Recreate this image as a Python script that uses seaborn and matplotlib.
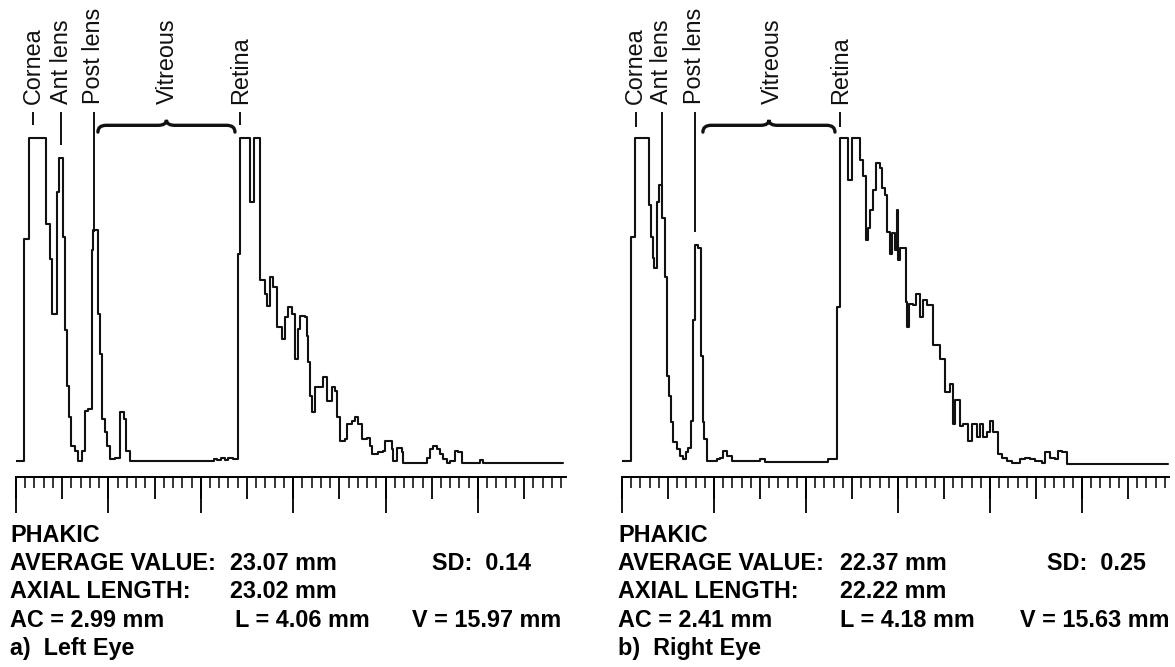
import numpy as np
import pandas as pd
import matplotlib
matplotlib.use("Agg")
import matplotlib.pyplot as plt
from matplotlib.path import Path
from matplotlib.patches import PathPatch
from matplotlib.ticker import MultipleLocator
import seaborn as sns

# ---------------- data (depth in mm, echo amplitude in % of screen) ----------------
left_depth_mm = [0, 0.87, 1.44, 3.2, 3.7, 3.86, 4.4, 4.7, 5.05, 5.3, 5.48, 5.73, 6.0, 6.39, 6.75,
                 7.1, 7.47, 7.83, 8.19, 8.37, 8.9, 9.1, 9.34, 9.63, 9.88, 10.17, 10.7, 11.25, 11.7,
                 11.9, 12.34, 21.4, 21.8, 22.2, 22.6, 23.0, 23.5, 24.06, 24.3, 25.33, 25.8, 26.41,
                 26.95, 27.13, 27.49, 27.85, 28.21, 28.75, 29.11, 29.48, 29.84, 30.2, 30.56, 30.74,
                 31.28, 31.46, 31.64, 31.82, 32.0, 32.36, 33.26, 33.62, 34.16, 34.52, 34.7, 35.07,
                 35.61, 35.79, 36.33, 36.69, 37.05, 37.41, 37.95, 38.31, 38.49, 39.2, 39.76, 39.94,
                 40.66, 40.84, 41.2, 41.74, 41.92, 44.45, 44.81, 45.17, 45.53, 45.89, 46.25, 46.61,
                 46.97, 47.51, 47.87, 48.23, 50.22, 50.5, 59.2]
left_amp_pct = [0, 68.8, 100, 73.5, 62.6, 45.5, 83.3, 93.7, 69.4, 40.4, 23.3, 13.5, 4.7, 3.1, 0,
                3.1, 15.5, 16, 65.2, 71.4, 45.5, 33.1, 12.9, 8.8, 4.7, 0.5, 0.8, 15, 12.9,
                3.1, 0, 0.5, 0.2, 0.8, 0.3, 0.8, 0.5, 64.2, 100, 80.2, 100, 55.9,
                51.8, 48.1, 56.9, 53.8, 41.4, 37.8, 44.5, 47.6, 45.5, 31.6, 40.9, 45,
                44.5, 38.8, 30.5, 20.2, 15, 22.8, 25.9, 18.6, 22.8, 21.7, 13.5, 6.2,
                6.7, 11.4, 12.4, 13.5, 11.4, 6.7, 7.2, 4.7, 2.1, 2.6, 3.1, 6.2,
                3.6, 0, 4.1, 2.6, -0.5, 1, 3.6, 4.7, 3.6, 2.1, 0.5, -0.5,
                0, 3.1, 2.6, -0.5, 0.3, -0.8, -0.8]

right_depth_mm = [0, 0.94, 1.41, 2.97, 3.12, 3.33, 3.51, 3.77, 4.06, 4.31, 4.67, 4.86, 5.14, 5.33,
                  5.58, 5.94, 6.3, 6.67, 6.96, 7.21, 7.46, 7.68, 7.93, 8.3, 8.55, 8.77, 8.95, 9.2,
                  10.29, 10.65, 11.01, 11.45, 11.92, 15.0, 15.54, 22.43, 23.33, 23.69, 24.6, 24.96,
                  25.87, 26.23, 26.52, 26.77, 26.95, 27.32, 27.6, 28.04, 28.22, 28.59, 28.84, 29.13,
                  29.31, 29.67, 29.85, 30.03, 30.22, 30.87, 31.01, 31.23, 31.59, 31.95, 32.39, 32.75,
                  33.11, 33.84, 34.56, 35.11, 35.65, 35.94, 36.19, 36.74, 37.1, 37.64, 38.0, 38.55,
                  38.91, 39.27, 39.64, 40.0, 40.36, 40.9, 41.27, 41.81, 42.35, 43.26, 43.8, 44.35,
                  44.89, 45.61, 45.98, 46.52, 47.06, 47.43, 47.79, 48.33, 59.4]
right_amp_pct = [0, 69.4, 100, 79.3, 69.4, 62.7, 59.6, 80.3, 85.5, 75.1, 57, 26.4, 20.2, 11.9,
                 5.7, 3.6, 1.6, 0.5, 2.6, 4.1, 12.4, 43.5, 66.8, 65.8, 32.6, 11.9, 6.7, 0,
                 0.5, 1, 3.1, 1.6, 0, 0.5, -0.2, 0.5, 47.7, 100, 87, 100,
                 93.3, 88.1, 68.4, 72, 77.7, 83.9, 92.2, 90.7, 84.5, 82.4, 71, 64.2,
                 70.5, 65.3, 77.7, 62.2, 65.8, 49.2, 41.5, 48.7, 48.2, 51.8, 44.6, 49.7,
                 48.2, 35.8, 31.6, 21.2, 23.8, 11.4, 18.7, 10.9, 11.4, 6.2, 11.4, 7.3,
                 11.4, 7.3, 8.8, 12.4, 8.8, 2.1, 1, 0, -0.5, 0.5, 1, 0.5,
                 0, -0.5, 2.6, 1, 0.5, 3.1, 2.6, -1, -1]

label_names = ["Cornea", "Ant lens", "Post lens", "Vitreous", "Retina"]
left_label_mm = [1.84, 4.9, 8.4, 16.34, 24.3]
right_label_mm = [1.5, 4.3, 7.9, 16.3, 23.75]
# lower end of the marker line under each label (None = brace instead)
left_marker_low = [104.0, 97.8, 71.0, None, 104.0]
right_marker_low = [103.5, 84.8, 70.9, None, 103.5]
left_brace_mm = [8.87, 23.7]
right_brace_mm = [8.8, 23.15]

left_info = {
    "title": "PHAKIC",
    "avg": ("AVERAGE VALUE:", "23.07 mm", "SD:  0.14"),
    "axial": ("AXIAL LENGTH:", "23.02 mm"),
    "parts": ("AC = 2.99 mm", "L = 4.06 mm", "V = 15.97 mm"),
    "caption": "a)  Left Eye",
}
right_info = {
    "title": "PHAKIC",
    "avg": ("AVERAGE VALUE:", "22.37 mm", "SD:  0.25"),
    "axial": ("AXIAL LENGTH:", "22.22 mm"),
    "parts": ("AC = 2.41 mm", "L = 4.18 mm", "V = 15.63 mm"),
    "caption": "b)  Right Eye",
}

# ---------------- style ----------------
sns.set_theme(style="white")
plt.rcParams["font.family"] = ["Liberation Sans", "DejaVu Sans"]
plt.rcParams["axes.edgecolor"] = "black"
plt.rcParams["xtick.color"] = "black"

W, H = 1175, 667
fig = plt.figure(figsize=(W / 100, H / 100), dpi=100)
fig.patch.set_facecolor("white")

YMIN, YMAX = -18.3, 142.7
RULER_Y = -4.95
INK = "#111111"


def draw_brace(ax, x0, x1):
    xm = (x0 + x1) / 2
    y_end, y_flat, y_tip, r = 101.8, 103.9, 105.6, 0.9
    verts = [(x0, y_end), (x0, y_flat), (x0 + r, y_flat),
             (xm - r, y_flat), (xm, y_flat), (xm, y_tip),
             (xm, y_flat), (xm + r, y_flat),
             (x1 - r, y_flat), (x1, y_flat), (x1, y_end)]
    codes = [Path.MOVETO, Path.CURVE3, Path.CURVE3, Path.LINETO, Path.CURVE3, Path.CURVE3,
             Path.CURVE3, Path.CURVE3, Path.LINETO, Path.CURVE3, Path.CURVE3]
    ax.add_patch(PathPatch(Path(verts, codes), fill=False, lw=2.4, color=INK,
                           capstyle="round", clip_on=False))


def draw_panel(rect, depth, amp, label_mm, marker_low, brace_mm):
    ax = fig.add_axes(rect)
    ax.set_facecolor("white")
    df = pd.DataFrame({"depth": depth, "amp": amp})
    sns.lineplot(data=df, x="depth", y="amp", ax=ax, color=INK, lw=1.5,
                 drawstyle="steps-post", estimator=None, sort=False)
    ax.set_xlim(-0.05, 59.5)
    ax.set_ylim(YMIN, YMAX)
    ax.set_xlabel("")
    ax.set_ylabel("")
    ax.set_yticks([])
    for s in ("left", "top", "right"):
        ax.spines[s].set_visible(False)
    ax.spines["bottom"].set_position(("data", RULER_Y))
    ax.spines["bottom"].set_linewidth(1.3)
    ax.xaxis.set_major_locator(MultipleLocator(5))
    ax.xaxis.set_minor_locator(MultipleLocator(1))
    ax.tick_params(axis="x", which="major", direction="out", length=16, width=1.3,
                   labelbottom=False, bottom=True)
    ax.tick_params(axis="x", which="minor", direction="out", length=8, width=1.1, bottom=True)
    frac = (RULER_Y - YMIN) / (YMAX - YMIN)
    sec = ax.secondary_xaxis(frac)
    sec.xaxis.set_major_locator(MultipleLocator(10))
    sec.tick_params(axis="x", which="major", direction="out", length=26, width=1.3,
                    labelbottom=False)
    sec.spines["bottom"].set_linewidth(1.3)

    for name, x, low in zip(label_names, label_mm, marker_low):
        ax.text(x, 110.5, name, rotation=90, ha="center", va="bottom",
                fontsize=16.8, color=INK)
        if low is not None:
            ax.vlines(x, low, 108.0, color=INK, lw=1.4)
    draw_brace(ax, brace_mm[0], brace_mm[1])
    return ax


def px_rect(left_px, width_px, top_px=0, height_px=520):
    return [left_px / W, (H - top_px - height_px) / H, width_px / W, height_px / H]


draw_panel(px_rect(15.5, 59.55 * 9.24), left_depth_mm, left_amp_pct,
           left_label_mm, left_marker_low, left_brace_mm)
draw_panel(px_rect(621.5, 59.55 * 9.2), right_depth_mm, right_amp_pct,
           right_label_mm, right_marker_low, right_brace_mm)


def info_block(info, x0, xv, xl, xsd, xv3):
    kw = dict(fontsize=16.8, fontweight="bold", va="baseline", ha="left", color="black")
    def t(x, y, s):
        fig.text(x / W, 1 - y / H, s, **kw)
    t(x0, 542, info["title"])
    t(x0, 570, info["avg"][0]); t(xv, 570, info["avg"][1]); t(xsd, 570, info["avg"][2])
    t(x0, 598, info["axial"][0]); t(xv, 598, info["axial"][1])
    t(x0, 627, info["parts"][0]); t(xl, 627, info["parts"][1]); t(xv3, 627, info["parts"][2])
    t(x0, 655, info["caption"])


info_block(left_info, 10, 230, 235, 432, 412)
info_block(right_info, 618, 840, 840, 1047, 1020)

fig.savefig("out.png", dpi=100, facecolor="white")
